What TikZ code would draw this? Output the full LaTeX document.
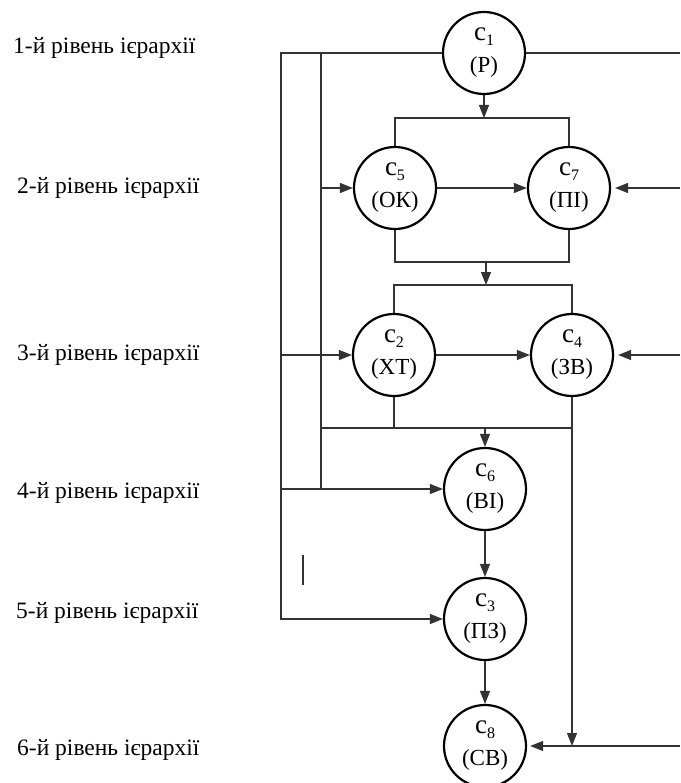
\documentclass[tikz,border=0pt]{standalone}
\usepackage{fontspec}
\setmainfont{Liberation Serif}
\usetikzlibrary{arrows.meta}
\newcommand{\cnode}[1]{{\fontsize{27}{27}\selectfont c}\raisebox{-5pt}{\fontsize{16}{16}\selectfont #1}}
\begin{document}
\begin{tikzpicture}[x=1pt,y=-1pt,
    state/.style={circle, draw=black, line width=2.2pt, minimum size=82pt, inner sep=0pt,
        align=center, font=\fontsize{23}{32}\selectfont},
    level/.style={anchor=west, inner sep=0pt, font=\fontsize{23.5}{27}\selectfont},
    wire/.style={draw=black!80, line width=1.1pt},
    >={Triangle[length=13pt,width=10pt]}]
        \useasboundingbox (0,0) rectangle (680,783);
        % levels
        \node[level] (l1) at (13,48) {1-й рівень ієрархії};
        \node[level] (l2) at (17,188) {2-й рівень ієрархії};
        \node[level] (l3) at (17,355) {3-й рівень ієрархії};
        \node[level] (l4) at (17,493) {4-й рівень ієрархії};
        \node[level] (l5) at (16,613) {5-й рівень ієрархії};
        \node[level] (l6) at (17,750) {6-й рівень ієрархії};
        % states
        \node[state] (c1) at (484,53) {\cnode{1}\\(Р)};
        \node[state] (c5) at (395,188) {\cnode{5}\\(ОК)};
        \node[state] (c7) at (569,188) {\cnode{7}\\(ПІ)};
        \node[state] (c2) at (394,355) {\cnode{2}\\(ХТ)};
        \node[state] (c4) at (572,355) {\cnode{4}\\(ЗВ)};
        \node[state] (c6) at (485,489) {\cnode{6}\\(ВІ)};
        \node[state] (c3) at (485,619) {\cnode{3}\\(ПЗ)};
        \node[state] (c8) at (485,746) {\cnode{8}\\(СВ)};
        \coordinate (a1) at (281,53);
        \coordinate (a2) at (321,53);
        \coordinate (b1) at (484,118);
        \coordinate (b2) at (486,262);
        \coordinate (b3) at (486,285);
        \coordinate (b4) at (485,428);
        \coordinate (e) at (680,0);
        % left feeds
        \draw[wire, ->] (c1.west) -- (a1) |- (c3.west);
        \draw[wire, ->] (a1 |- c2.west) -- (c2.west);
        \draw[wire, ->] (a1 |- c6.west) -- (c6.west);
        \draw[wire] (a2) -- (a2 |- c6.west);
        \draw[wire, ->] (a2 |- c5.west) -- (c5.west);
        % level 2
        \draw[wire, ->] (c1.south) -- (b1);
        \draw[wire] (c5.north) |- (b1) -| (c7.north);
        \draw[wire, ->] (c5.east) -- (c7.west);
        \draw[wire] (c5.south) |- (b2) -| (c7.south);
        % level 3
        \draw[wire, ->] (b2) -- (b3);
        \draw[wire] (c2.north) |- (b3) -| (c4.north);
        \draw[wire, ->] (c2.east) -- (c4.west);
        \draw[wire] (a2 |- b4) -- (c4.south |- b4);
        \draw[wire] (c2.south) -- (c2.south |- b4);
        \draw[wire, ->] (b4) -- (c6.north);
        \draw[wire, ->] (c4.south) -- (c4.south |- c8.east);
        % lower chain
        \draw[wire, ->] (c6.south) -- (c3.north);
        \draw[wire, ->] (c3.south) -- (c8.north);
        % right feeds
        \draw[wire] (c1.east) -- (c1.east -| e);
        \draw[wire, ->, shorten >=4pt] (c7.east -| e) -- (c7.east);
        \draw[wire, ->, shorten >=4pt] (c4.east -| e) -- (c4.east);
        \draw[wire, ->, shorten >=3pt] (c8.east -| e) -- (c8.east);
        \draw[wire] (303,555) -- (303,585);
\end{tikzpicture}
\end{document}
